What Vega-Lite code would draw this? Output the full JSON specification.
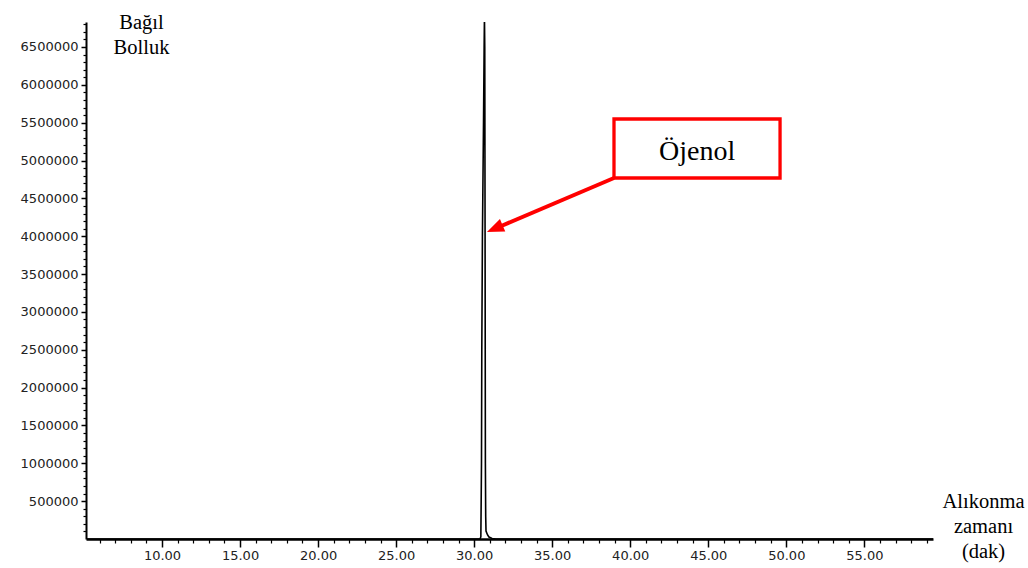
{
  "$schema": "https://vega.github.io/schema/vega-lite/v6.json",
  "width": 847,
  "height": 517,
  "autosize": "none",
  "padding": {"left": 86, "top": 22, "right": 95, "bottom": 29},
  "background": "white",
  "config": {
    "view": {"stroke": null},
    "axis": {
      "grid": false,
      "domainColor": "black",
      "tickColor": "black",
      "labelColor": "#222222",
      "labelFont": "DejaVu Sans",
      "labelFontSize": 13,
      "titleFont": "Liberation Serif",
      "titleFontSize": 20.5,
      "titleFontWeight": "normal",
      "titleColor": "black"
    }
  },
  "datasets": {
    "trace": [
      {"t": 5.13, "a": 0},
      {"t": 30.38, "a": 0},
      {"t": 30.43, "a": 30000},
      {"t": 30.45, "a": 500000},
      {"t": 30.47, "a": 1000000},
      {"t": 30.49, "a": 2500000},
      {"t": 30.53, "a": 4000000},
      {"t": 30.6, "a": 5500000},
      {"t": 30.64, "a": 6500000},
      {"t": 30.66, "a": 6900000},
      {"t": 30.68, "a": 6500000},
      {"t": 30.7, "a": 4000000},
      {"t": 30.72, "a": 1000000},
      {"t": 30.74, "a": 300000},
      {"t": 30.76, "a": 105000},
      {"t": 30.86, "a": 53000},
      {"t": 30.95, "a": 26000},
      {"t": 31.15, "a": 7000},
      {"t": 31.4, "a": 0},
      {"t": 59.4, "a": 0}
    ],
    "box": [{"t": 38.96, "t2": 49.6, "a": 4769000, "a2": 5548500}],
    "arrow": [
      {"t": 38.96, "a": 4769000},
      {"t": 31.66, "a": 4128400}
    ],
    "head": [{"t": 30.82, "a": 4055700}],
    "label": [{"t": 44.29, "a": 5141000, "text": "Öjenol"}]
  },
  "resolve": {"axis": {"x": "independent", "y": "independent"}},
  "layer": [
    {
      "data": {"name": "trace"},
      "mark": {"type": "line", "color": "black", "strokeWidth": 1.6, "clip": true, "interpolate": "linear"},
      "encoding": {
        "x": {
          "field": "t", "type": "quantitative",
          "scale": {"domain": [5.13, 59.4], "nice": false, "zero": false},
          "axis": {
            "orient": "bottom",
            "values": [10, 15, 20, 25, 30, 35, 40, 45, 50, 55],
            "format": ".2f",
            "tickSize": 8,
            "tickWidth": 1.5,
            "domainWidth": 2.5,
            "labelPadding": 2,
            "title": ["Alıkonma", "zamanı", "(dak)"],
            "titleAngle": 0,
            "titleX": 897,
            "titleY": -32,
            "titleAlign": "center",
            "titleBaseline": "alphabetic",
            "titleLineHeight": 25
          }
        },
        "y": {
          "field": "a", "type": "quantitative",
          "scale": {"domain": [0, 6830000], "nice": false, "zero": true},
          "axis": {
            "orient": "left",
            "values": [500000, 1000000, 1500000, 2000000, 2500000, 3000000, 3500000, 4000000, 4500000, 5000000, 5500000, 6000000, 6500000],
            "format": "d",
            "tickSize": 5,
            "tickWidth": 1.5,
            "domainWidth": 2,
            "labelPadding": 3,
            "title": ["Bağıl", "Bolluk"],
            "titleAngle": 0,
            "titleX": 55,
            "titleY": 6,
            "titleAlign": "center",
            "titleBaseline": "alphabetic",
            "titleLineHeight": 25
          }
        }
      }
    },
    {
      "data": {"name": "arrow"},
      "mark": {"type": "line", "color": "#ff0000", "strokeWidth": 4, "strokeCap": "butt"},
      "encoding": {
        "x": {
          "field": "t", "type": "quantitative",
          "scale": {"domain": [5.13, 59.4], "nice": false, "zero": false},
          "axis": {
            "orient": "bottom",
            "values": [6, 7, 8, 9, 11, 12, 13, 14, 16, 17, 18, 19, 21, 22, 23, 24, 26, 27, 28, 29, 31, 32, 33, 34, 36, 37, 38, 39, 41, 42, 43, 44, 46, 47, 48, 49, 51, 52, 53, 54, 56, 57, 58, 59],
            "tickSize": 4,
            "tickWidth": 1.2,
            "labels": false,
            "domain": false,
            "title": null
          }
        },
        "y": {
          "field": "a", "type": "quantitative",
          "scale": {"domain": [0, 6830000], "nice": false, "zero": true},
          "axis": {
            "orient": "left",
            "values": [100000, 200000, 300000, 400000, 600000, 700000, 800000, 900000, 1100000, 1200000, 1300000, 1400000, 1600000, 1700000, 1800000, 1900000, 2100000, 2200000, 2300000, 2400000, 2600000, 2700000, 2800000, 2900000, 3100000, 3200000, 3300000, 3400000, 3600000, 3700000, 3800000, 3900000, 4100000, 4200000, 4300000, 4400000, 4600000, 4700000, 4800000, 4900000, 5100000, 5200000, 5300000, 5400000, 5600000, 5700000, 5800000, 5900000, 6100000, 6200000, 6300000, 6400000, 6600000, 6700000, 6800000],
            "tickSize": 3,
            "tickWidth": 1.2,
            "labels": false,
            "domain": false,
            "title": null
          }
        }
      }
    },
    {
      "data": {"name": "box"},
      "mark": {"type": "rect", "fill": "white", "stroke": "#ff0000", "strokeWidth": 3.3},
      "encoding": {
        "x": {"field": "t", "type": "quantitative", "scale": {"domain": [5.13, 59.4], "nice": false, "zero": false}, "axis": null},
        "x2": {"field": "t2"},
        "y": {"field": "a", "type": "quantitative", "scale": {"domain": [0, 6830000], "nice": false, "zero": true}, "axis": null},
        "y2": {"field": "a2"}
      }
    },
    {
      "data": {"name": "label"},
      "mark": {"type": "text", "font": "Liberation Serif", "fontSize": 28, "color": "black", "align": "center", "baseline": "middle", "dy": 2},
      "encoding": {
        "x": {"field": "t", "type": "quantitative", "scale": {"domain": [5.13, 59.4], "nice": false, "zero": false}, "axis": null},
        "y": {"field": "a", "type": "quantitative", "scale": {"domain": [0, 6830000], "nice": false, "zero": true}, "axis": null},
        "text": {"field": "text"}
      }
    },
    {
      "data": {"name": "head"},
      "mark": {"type": "point", "shape": "M0,0L-0.8,2L0.8,2Z", "size": 289, "angle": 247, "filled": true, "fill": "#ff0000", "stroke": null, "opacity": 1},
      "encoding": {
        "x": {"field": "t", "type": "quantitative", "scale": {"domain": [5.13, 59.4], "nice": false, "zero": false}, "axis": null},
        "y": {"field": "a", "type": "quantitative", "scale": {"domain": [0, 6830000], "nice": false, "zero": true}, "axis": null}
      }
    }
  ]
}
